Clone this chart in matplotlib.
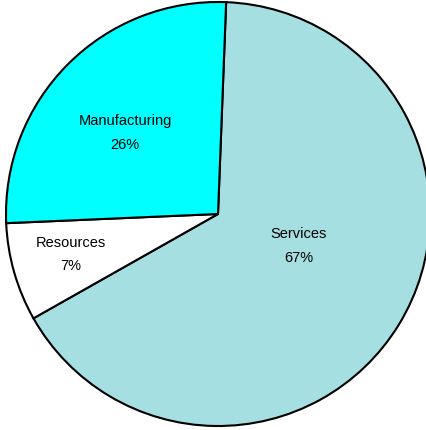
import matplotlib.pyplot as plt
import numpy as np

sectors = ["Services", "Resources", "Manufacturing"]
shares = [66.2, 7.5, 26.3]
pct_labels = ["67%", "7%", "26%"]
colors = ["#a6dfe1", "#ffffff", "#00ffff"]

# label placement: (radius fraction, angle shift in degrees)
label_pos = [(0.41, -10), (0.72, 0.6), (0.583, -3.7)]

W, H = 426, 430
fig = plt.figure(figsize=(W / 100, H / 100), dpi=100)
ax = fig.add_axes([0, 0, 1, 1])

R = 212.0
cx, cy = 218.0, 216.0  # pixel center, from bottom-left

wedges, _ = ax.pie(shares, colors=colors, startangle=87.8, counterclock=False,
                   radius=1, wedgeprops=dict(edgecolor="black", linewidth=1.5))

for w, name, pct, (rf, shift) in zip(wedges, sectors, pct_labels, label_pos):
    mid = np.deg2rad((w.theta1 + w.theta2) / 2 - shift)
    x, y = rf * np.cos(mid), rf * np.sin(mid)
    ax.text(x, y, f"{name}\n{pct}", ha="center", va="center",
            fontsize=10.5, family="Liberation Sans", linespacing=1.9)

ax.set_xlim(-cx / R, (W - cx) / R)
ax.set_ylim(-cy / R, (H - cy) / R)
ax.set_aspect("auto")
ax.axis("off")

fig.savefig("out.png", dpi=100)
